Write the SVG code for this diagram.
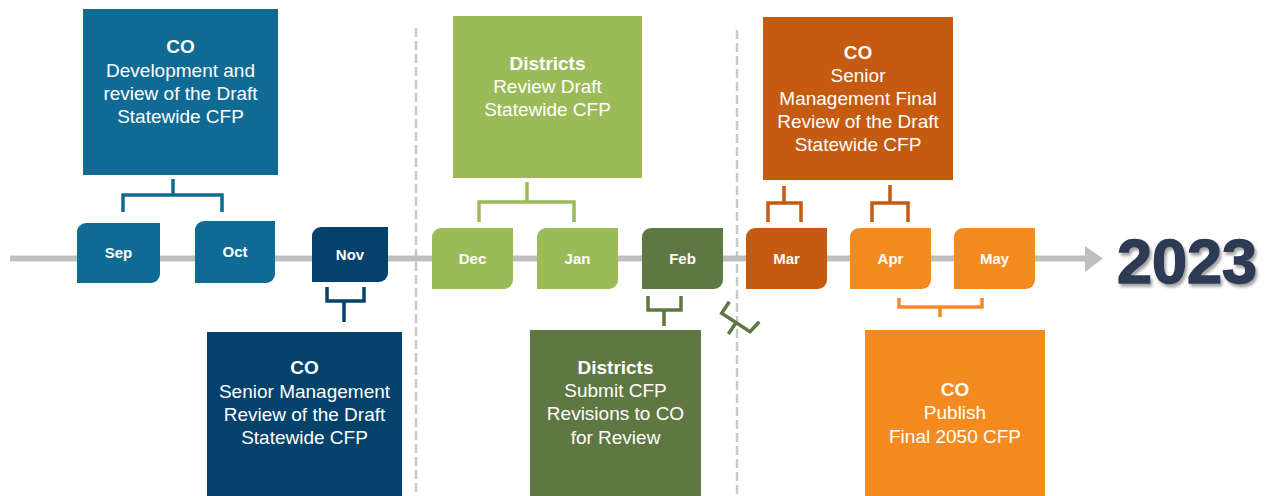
<svg xmlns="http://www.w3.org/2000/svg" width="1266" height="496" viewBox="0 0 1266 496">
<style>
.t{font-family:"Liberation Sans",Arial,sans-serif;font-size:19px;fill:#ffffff;text-anchor:middle}
.b{font-weight:bold}
.m{font-family:"Liberation Sans",Arial,sans-serif;font-size:15px;font-weight:bold;fill:#ffffff;text-anchor:middle}
.br{fill:none;stroke-width:3.5}
.dash{stroke:#c9c9c9;stroke-width:2.5;stroke-dasharray:9 4;fill:none}
.c1{fill:#0f6b94}.c2{fill:#04416b}.c3{fill:#9bbb59}.c4{fill:#5f7843}.c5{fill:#c55a11}.c6{fill:#f58b20}
.s1{stroke:#0f6b94}.s2{stroke:#04416b}.s3{stroke:#9bbb59}.s4{stroke:#5f7843}.s5{stroke:#c55a11}.s6{stroke:#f58b20}
</style>
<defs>
<filter id="sh" x="-10%" y="-10%" width="130%" height="140%">
<feDropShadow dx="2" dy="3" stdDeviation="1.5" flood-color="#7a7a7a" flood-opacity="0.7"/>
</filter>
</defs>
<rect width="1266" height="496" fill="#ffffff"/>

<g id="separators">
<line class="dash" x1="416" y1="28" x2="416" y2="496"/>
<line class="dash" x1="737" y1="30" x2="737" y2="496"/>
</g>

<g id="timeline">
<line x1="10" y1="258.5" x2="1088" y2="258.5" stroke="#bfbfbf" stroke-width="6"/>
<polygon points="1085,246 1103,258.5 1085,272" fill="#bfbfbf"/>
</g>

<g id="year">
<text x="1187" y="283" font-family="'Liberation Sans',Arial,sans-serif" font-size="63" font-weight="bold" fill="#2e3a55" stroke="#2e3a55" stroke-width="1.5" text-anchor="middle" filter="url(#sh)">2023</text>
</g>

<g id="connectors">
<path class="br s1" d="M173,179 V195 M123,212 V195 H222 V212"/>
<path class="br s2" d="M344,322 V301 M327,287 V301 H364 V287"/>
<path class="br s3" d="M527,182 V202 M479,222 V202 H574 V222"/>
<path class="br s4" d="M664,326 V310 M648,296 V310 H681 V296"/>
<path class="br s4" d="M729.3,301.7 L721.7,313.3 L750,331.7 L759.3,321.7 M736,322.7 L728.3,334"/>
<path class="br s5" d="M784,186 V203 M768,222 V203 H801 V222"/>
<path class="br s5" d="M890,185 V203 M872,222 V203 H908 V222"/>
<path class="br s6" d="M940,317 V307 M899,298 V307 H982 V298"/>
</g>

<g id="month-sep"><path class="c1" d="M86,223 H160 V274 A9,9 0 0 1 151,283 H77 V232 A9,9 0 0 1 86,223 Z"/><text class="m" x="118.5" y="258">Sep</text></g>
<g id="month-oct"><path class="c1" d="M204,221 H275 V274 A9,9 0 0 1 266,283 H195 V230 A9,9 0 0 1 204,221 Z"/><text class="m" x="235" y="257">Oct</text></g>
<g id="month-nov"><path class="c2" d="M321,227 H388 V273 A9,9 0 0 1 379,282 H312 V236 A9,9 0 0 1 321,227 Z"/><text class="m" x="350" y="260">Nov</text></g>
<g id="month-dec"><path class="c3" d="M441,228 H513 V280 A9,9 0 0 1 504,289 H432 V237 A9,9 0 0 1 441,228 Z"/><text class="m" x="472.5" y="264">Dec</text></g>
<g id="month-jan"><path class="c3" d="M546,228 H618 V280 A9,9 0 0 1 609,289 H537 V237 A9,9 0 0 1 546,228 Z"/><text class="m" x="577.5" y="264">Jan</text></g>
<g id="month-feb"><path class="c4" d="M651,228 H723 V280 A9,9 0 0 1 714,289 H642 V237 A9,9 0 0 1 651,228 Z"/><text class="m" x="682.5" y="264">Feb</text></g>
<g id="month-mar"><path class="c5" d="M755,228 H827 V280 A9,9 0 0 1 818,289 H746 V237 A9,9 0 0 1 755,228 Z"/><text class="m" x="786.5" y="264">Mar</text></g>
<g id="month-apr"><path class="c6" d="M859,228 H931 V280 A9,9 0 0 1 922,289 H850 V237 A9,9 0 0 1 859,228 Z"/><text class="m" x="890.5" y="264">Apr</text></g>
<g id="month-may"><path class="c6" d="M963,228 H1035 V280 A9,9 0 0 1 1026,289 H954 V237 A9,9 0 0 1 963,228 Z"/><text class="m" x="994.5" y="264">May</text></g>

<g id="box-co-dev">
<rect class="c1" x="83" y="9" width="195" height="166"/>
<text class="t b" x="180.5" y="53">CO</text>
<text class="t" x="180.5" y="77">Development and</text>
<text class="t" x="180.5" y="100">review of the Draft</text>
<text class="t" x="180.5" y="123">Statewide CFP</text>
</g>

<g id="box-co-senior">
<rect class="c2" x="207" y="332" width="195" height="170"/>
<text class="t b" x="304.5" y="374">CO</text>
<text class="t" x="304.5" y="398">Senior Management</text>
<text class="t" x="304.5" y="421">Review of the Draft</text>
<text class="t" x="304.5" y="444">Statewide CFP</text>
</g>

<g id="box-districts-review">
<rect class="c3" x="453" y="16" width="189" height="162"/>
<text class="t b" x="547.5" y="70">Districts</text>
<text class="t" x="547.5" y="93">Review Draft</text>
<text class="t" x="547.5" y="116">Statewide CFP</text>
</g>

<g id="box-districts-submit">
<rect class="c4" x="530" y="330" width="171" height="172"/>
<text class="t b" x="615.5" y="374">Districts</text>
<text class="t" x="615.5" y="397">Submit CFP</text>
<text class="t" x="615.5" y="420">Revisions to CO</text>
<text class="t" x="615.5" y="444">for Review</text>
</g>

<g id="box-co-final">
<rect class="c5" x="763" y="17" width="190" height="163"/>
<text class="t b" x="858" y="59">CO</text>
<text class="t" x="858" y="82">Senior</text>
<text class="t" x="858" y="105">Management Final</text>
<text class="t" x="858" y="128">Review of the Draft</text>
<text class="t" x="858" y="151">Statewide CFP</text>
</g>

<g id="box-co-publish">
<rect class="c6" x="865" y="330" width="180" height="172"/>
<text class="t b" x="955" y="396">CO</text>
<text class="t" x="955" y="419">Publish</text>
<text class="t" x="955" y="443">Final 2050 CFP</text>
</g>
</svg>
